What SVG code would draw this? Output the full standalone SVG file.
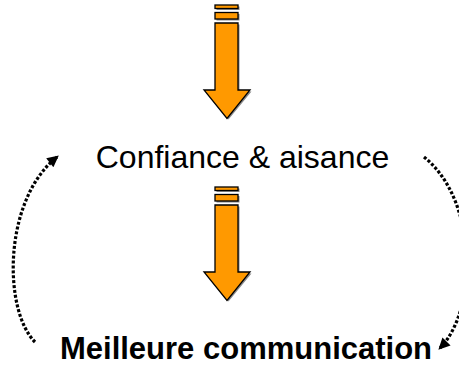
<svg xmlns="http://www.w3.org/2000/svg" width="459" height="370" viewBox="0 0 459 370">
<style>
.arr{fill:#FF9900;stroke:#000;stroke-width:1.3;stroke-linejoin:miter}
.sh{fill:#8a8a8a}
.lbl{font-family:"Liberation Sans",Arial,sans-serif;fill:#000;text-anchor:middle}
.dot{fill:none;stroke:#000;stroke-width:3.2;stroke-dasharray:3 1.9}
</style>
<defs>
<marker id="ah" viewBox="0 0 10 10" refX="8" refY="5" markerWidth="4" markerHeight="3.6" orient="auto" markerUnits="strokeWidth">
<path d="M0,0 L10,5 L0,10 z" fill="#000"/>
</marker>
<g id="bigArrow">
<rect class="sh" x="216.5" y="6.5" width="23" height="3.5"/>
<rect class="sh" x="216.5" y="14" width="23" height="6.5"/>
<path class="sh" d="M216.5,24.5 H239.5 V91.5 H251.5 L228.5,119.5 L205.5,91.5 H216.5 Z"/>
<rect class="arr" x="215" y="5" width="23" height="3.5"/>
<rect class="arr" x="215" y="12.5" width="23" height="6.5"/>
<path class="arr" d="M215,23 H238 V90 H250 L227,118.5 L204,90 H215 Z"/>
</g>
</defs>
<g id="arrow-top">
<use href="#bigArrow"/>
</g>
<g id="node-confiance">
<text class="lbl" x="242.5" y="168" font-size="32">Confiance &amp; aisance</text>
</g>
<g id="arrow-middle">
<use href="#bigArrow" transform="translate(0,182)"/>
</g>
<g id="node-meilleure">
<text class="lbl" x="246" y="359" font-size="31" font-weight="bold">Meilleure communication</text>
</g>
<g id="connectors">
<path class="dot" d="M35,342 C3,310 3,200 57,157" marker-end="url(#ah)"/>
<path class="dot" d="M424,157 C478,200 478,310 440,348" marker-end="url(#ah)"/>
</g>
</svg>
